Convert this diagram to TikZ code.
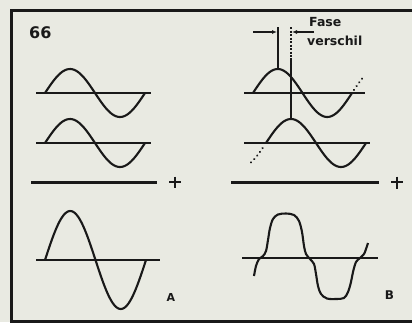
\documentclass[tikz,border=0pt]{standalone}
\usepackage{fontspec}
\setmainfont{DejaVu Sans}
\usetikzlibrary{arrows.meta}
\definecolor{bg}{RGB}{233,234,226}
\definecolor{ink}{RGB}{25,25,25}
\begin{document}
\begin{tikzpicture}[x=1pt,y=-1pt,
  wave/.style={ink, line width=2.1pt},
  axisline/.style={ink, line width=1.5pt},
  sumline/.style={ink, line width=3pt},
  frameline/.style={ink, line width=3pt},
  plussign/.style={ink, line width=2.6pt},
  dotwave/.style={ink, line width=2.2pt, line cap=round, dash pattern=on 0.1pt off 4.5pt},
  lbl/.style={text=ink, inner sep=0pt},
  arr/.style={ink, line width=1.2pt, -{Latex[length=5pt,width=4pt]}}]
\fill[bg] (0,0) rectangle (412,322);
\useasboundingbox (0,0) rectangle (412,322);
\draw[frameline] (416,10) -- (11,10) -- (11,321) -- (416,321);

% label 66
\node[lbl, anchor=west, font=\bfseries\fontsize{16}{16}\selectfont] (num) at (29,33) {66};

% left column
\draw[axisline] (36,93) -- (151,93);
\draw[wave] plot[domain=45:145, samples=60] (\x, {93-24*sin((\x-45)*3.6)});
\draw[axisline] (36,143) -- (151,143);
\draw[wave] plot[domain=45:145, samples=60] (\x, {143-24*sin((\x-45)*3.6)});
\draw[sumline] (31,182) -- (157,182);
\draw[plussign] (169,182) -- (181,182) (175,176.5) -- (175,187.5);
\draw[axisline] (36,260) -- (160,260);
\draw[wave] plot[domain=45:146, samples=70] (\x, {260-49*sin((\x-45)*3.5644)});
\node[lbl, font=\bfseries\fontsize{11}{11}\selectfont] (la) at (171,297) {A};

% right column
\draw[axisline] (244,93) -- (365,93);
\draw[wave] plot[domain=253:352, samples=60] (\x, {93-24*sin((\x-253)*3.6364)});
\draw[dotwave] plot[domain=354:365, samples=6] (\x, {93-24*sin((\x-253)*3.6364)});
\draw[axisline] (244,143) -- (370,143);
\draw[wave] plot[domain=266:366, samples=60] (\x, {143-24*sin((\x-266)*3.6)});
\draw[dotwave] plot[domain=251:264, samples=6] (\x, {143-24*sin((\x-266)*3.6)});

% phase markers
\coordinate (p1top) at (278,27);
\coordinate (p1bot) at (278,69);
\coordinate (p2top) at (291,27);
\coordinate (p2mid) at (291,58);
\coordinate (p2bot) at (291,119);
\draw[ink, line width=1.2pt] (p1top) -- (p1bot);
\draw[ink, line width=1.2pt, dash pattern=on 2pt off 1.5pt] (p2top) -- (p2mid);
\draw[ink, line width=1.2pt] (p2mid) -- (p2bot);
\coordinate (a1s) at (253,32);
\coordinate (a1e) at (277,32);
\coordinate (a2s) at (314,32);
\coordinate (a2e) at (292,32);
\draw[arr] (a1s) -- (a1e);
\draw[arr] (a2s) -- (a2e);
\node[lbl, anchor=west, font=\bfseries\fontsize{12.5}{12.5}\selectfont] (fase) at (309,22) {Fase};
\node[lbl, anchor=west, font=\bfseries\fontsize{12.5}{12.5}\selectfont] (vers) at (307,41) {verschil};

\draw[sumline] (231,182) -- (379,182);
\draw[plussign] (391,182) -- (403,182) (397,176.5) -- (397,188.5);
\draw[axisline] (242,258) -- (378,258);
\draw[wave] plot[smooth, tension=0.55] coordinates {
  (254,276) (256,266) (259,259) (263,256) (266,251) (268,240) (270,228) (273,219)
  (278,214.5) (286,213.5) (294,215) (299,221) (302,232) (304,246) (306,254)
  (310,259) (314,264) (316,274) (318,286) (321,294) (327,298.5) (336,299)
  (344,298) (348,292) (351,282) (353,272) (356,262) (360,258) (364,254)
  (366,249) (368,243)};
\node[lbl, font=\bfseries\fontsize{12}{12}\selectfont] (lb) at (389.5,295) {B};
\end{tikzpicture}
\end{document}
